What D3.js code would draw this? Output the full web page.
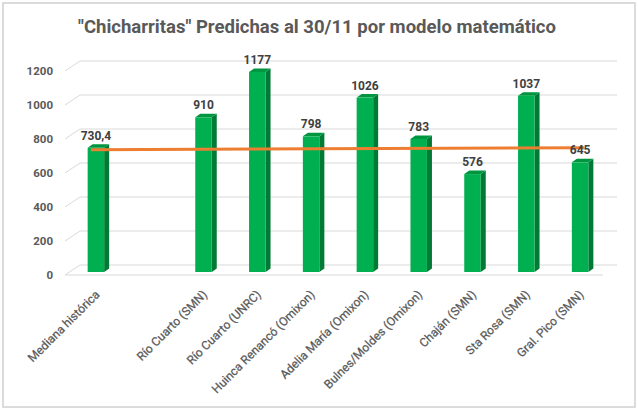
<!DOCTYPE html>
<html><head><meta charset="utf-8">
<script src="https://cdn.jsdelivr.net/npm/d3@7"></script>
<style>body{margin:0;background:#fff}svg{display:block}</style>
</head><body>
<svg id="c" width="638" height="412"></svg>
<script>
const title = '"Chicharritas" Predichas al 30/11 por modelo matemático';
const categories = ["Mediana histórica", "", "Río Cuarto (SMN)", "Río Cuarto (UNRC)", "Huinca Renancó (Omixon)", "Adelia María (Omixon)", "Bulnes/Moldes (Omixon)", "Chaján (SMN)", "Sta Rosa (SMN)", "Gral. Pico (SMN)"];
const values = [730.4, null, 910, 1177, 798, 1026, 783, 576, 1037, 645];
const valueLabels = ["730,4", "", "910", "1177", "798", "1026", "783", "576", "1037", "645"];
const lineValues = [719, 731];
const yTicks = [0, 200, 400, 600, 800, 1000, 1200];

const svg = d3.select("#c");
const W = 638, H = 412;
svg.append("rect").attr("width", W).attr("height", H).attr("fill", "#fff");
svg.append("rect").attr("x", 3).attr("y", 3).attr("width", 632).attr("height", 404)
  .attr("fill", "#fff").attr("stroke", "#d0d0d0").attr("stroke-width", 1.5);

const x = d3.scaleBand().domain(d3.range(categories.length)).range([69, 607]);
const y = d3.scaleLinear().domain([0, 1200]).range([272, 68]);
const bw = 16.5, dx = 5, dy = 3.5;
const frontL = 65, backL = 80, backR = 617, frontR = 603;
const yF = v => y(v) + 3, yB = v => y(v) - 7;
const cx = i => x(i) + x.bandwidth() / 2;

// gridlines (3D back wall + left side)
const grid = svg.append("g").attr("fill", "none").attr("stroke", "#d9d9d9").attr("stroke-width", 1);
yTicks.forEach(v => {
  grid.append("path").attr("d", d3.line()([[frontL, yF(v)], [backL, yB(v)], [backR, yB(v)]]));
});
grid.append("path").attr("d", d3.line()([[frontL, yF(0)], [frontR, yF(0)]]));

// y tick labels
svg.append("g").selectAll("text").data(yTicks).join("text")
  .attr("x", 53).attr("y", d => yF(d)).attr("dy", "0.35em")
  .attr("text-anchor", "end").attr("font-family", "Roboto, sans-serif")
  .attr("font-weight", "bold").attr("font-size", 11.5).attr("fill", "#595959")
  .text(d => d);

// bars
const bars = svg.append("g");
values.forEach((v, i) => {
  if (v == null) return;
  const bx = cx(i) - bw / 2, yt = y(v), yb = y(0);
  bars.append("path").attr("fill", "#007A34")
    .attr("d", d3.line()([[bx + bw, yt], [bx + bw + dx, yt - dy], [bx + bw + dx, yb - dy], [bx + bw, yb]]) + "Z");
  bars.append("path").attr("fill", "#00963F")
    .attr("d", d3.line()([[bx, yt], [bx + dx, yt - dy], [bx + bw + dx, yt - dy], [bx + bw, yt]]) + "Z");
  bars.append("rect").attr("x", bx).attr("y", yt).attr("width", bw).attr("height", yb - yt).attr("fill", "#00B050");
});

// orange line
const n = categories.length - 1;
svg.append("path").attr("fill", "none").attr("stroke", "#ED7D31").attr("stroke-width", 3)
  .attr("d", d3.line()([[cx(0) - 5, y(lineValues[0])], [cx(n) + 4, y(lineValues[1])]]));

// value labels
svg.append("g").selectAll("text").data(values.map((v, i) => ({v, i}))).join("text")
  .filter(d => d.v != null)
  .attr("x", d => cx(d.i)).attr("y", d => y(d.v) - dy - 4.5)
  .attr("text-anchor", "middle").attr("font-family", "Roboto, sans-serif")
  .attr("font-weight", "bold").attr("font-size", 12).attr("fill", "#404040")
  .text(d => valueLabels[d.i]);

// x labels
svg.append("g").selectAll("text").data(categories.map((c, i) => ({c, i}))).join("text")
  .filter(d => d.c !== "")
  .attr("transform", d => `translate(${cx(d.i) - 2},289) rotate(-45)`)
  .attr("dy", "0.75em").attr("text-anchor", "end")
  .attr("font-family", "Roboto, sans-serif").attr("font-size", 12).attr("fill", "#595959")
  .attr("stroke", "#595959").attr("stroke-width", 0.25)
  .text(d => d.c);

// title
svg.append("text").attr("x", 78).attr("y", 33)
  .attr("font-family", "Roboto, sans-serif").attr("font-weight", "bold").attr("font-size", 18)
  .attr("fill", "#595959").attr("textLength", 478).attr("lengthAdjust", "spacingAndGlyphs")
  .text(title);
</script>
</body></html>
